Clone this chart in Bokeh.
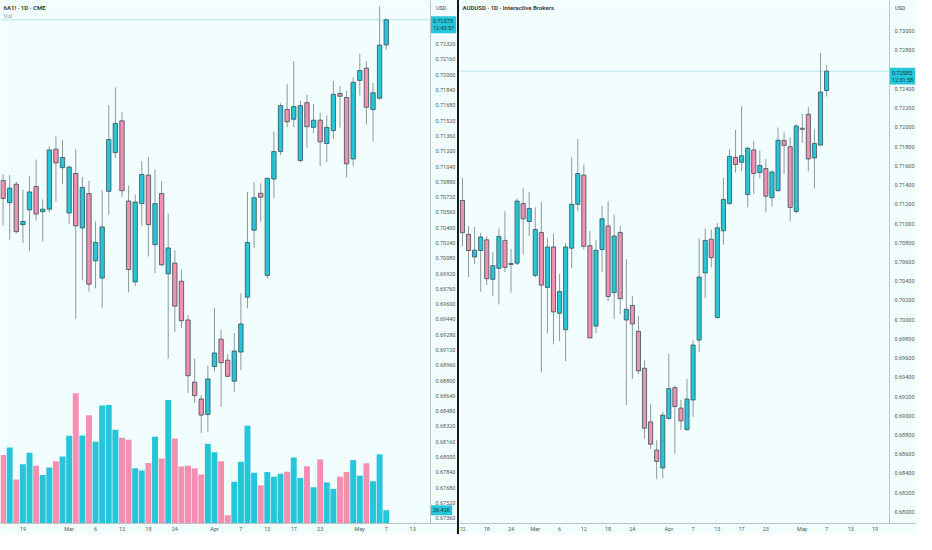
from bokeh.plotting import figure
from bokeh.models import (Range1d, FixedTicker, Label, ColumnDataSource, Div, PrintfTickFormatter,
                          LinearAxis)
from bokeh.layouts import row
from bokeh.embed import file_html
from bokeh.resources import INLINE

# ---------------- data: left panel (6A1! futures, CME, daily) ----------------
left_open = [0.70892, 0.70662, 0.70855, 0.70432, 0.70587, 0.70831, 0.70567, 0.70594, 0.71221, 0.71028,
             0.70554, 0.70967, 0.70398, 0.70757, 0.70053, 0.69873, 0.70780, 0.71186, 0.71518, 0.70678,
             0.69833, 0.70652, 0.70950, 0.70222, 0.70757, 0.69917, 0.70029, 0.69840, 0.69434, 0.68784,
             0.68607, 0.68445, 0.68947, 0.69234, 0.69014, 0.68794, 0.69099, 0.69673, 0.70374, 0.70760,
             0.69901, 0.70909, 0.71196, 0.71637, 0.71535, 0.71102, 0.71708, 0.71450, 0.71525, 0.71281,
             0.71416, 0.71805, 0.71762, 0.71119, 0.71941, 0.72069, 0.71637, 0.71755, 0.72313]
left_high = [0.70960, 0.70950, 0.70881, 0.70797, 0.70939, 0.71112, 0.70696, 0.71254, 0.71356, 0.71315,
             0.71050, 0.71221, 0.70932, 0.70892, 0.70465, 0.70787, 0.71683, 0.71870, 0.71609, 0.70841,
             0.70746, 0.71095, 0.71142, 0.71010, 0.70889, 0.70543, 0.70165, 0.69962, 0.69485, 0.69031,
             0.68648, 0.68960, 0.69562, 0.69332, 0.69078, 0.69298, 0.69714, 0.70774, 0.70875, 0.70865,
             0.70922, 0.71406, 0.71701, 0.71904, 0.72144, 0.71728, 0.71789, 0.71694, 0.71602, 0.71576,
             0.71937, 0.71880, 0.71830, 0.71972, 0.72218, 0.72144, 0.71914, 0.72716, 0.72590]
left_low = [0.70425, 0.70272, 0.70340, 0.70239, 0.70155, 0.70475, 0.70256, 0.70561, 0.70672, 0.70855,
            0.70442, 0.69444, 0.69850, 0.69731, 0.69765, 0.69562, 0.70536, 0.71125, 0.70723, 0.69724,
            0.69792, 0.70419, 0.70097, 0.69924, 0.69995, 0.69028, 0.69308, 0.69349, 0.68672, 0.68564,
            0.68252, 0.68266, 0.68896, 0.68523, 0.68835, 0.68683, 0.68909, 0.69556, 0.70188, 0.70459,
            0.69866, 0.70706, 0.71160, 0.71450, 0.71454, 0.71085, 0.71237, 0.71389, 0.71044, 0.71085,
            0.71328, 0.71447, 0.70926, 0.71044, 0.71785, 0.71480, 0.71298, 0.71740, 0.72262]
left_close = [0.70706, 0.70814, 0.70358, 0.70465, 0.70774, 0.70543, 0.70594, 0.71213, 0.71078, 0.71135,
              0.71034, 0.70419, 0.70821, 0.69809, 0.70246, 0.70408, 0.71322, 0.71491, 0.70787, 0.69962,
              0.70668, 0.70957, 0.70432, 0.70652, 0.70012, 0.70188, 0.69579, 0.69427, 0.68851, 0.68642,
              0.68439, 0.68818, 0.69089, 0.68987, 0.68845, 0.69109, 0.69393, 0.70246, 0.70713, 0.70719,
              0.70916, 0.71196, 0.71677, 0.71508, 0.71667, 0.71677, 0.71457, 0.71525, 0.71298, 0.71450,
              0.71795, 0.71775, 0.71068, 0.71921, 0.72043, 0.71660, 0.71812, 0.72310, 0.72575]
left_volume_k = [137.2, 152.1, 88.0, 118.5, 141.8, 115.8, 97.2, 111.9, 124.4, 134.1,
                 175.5, 260.9, 176.0, 216.8, 163.8, 236.3, 237.0, 187.7, 171.6, 167.7,
                 110.8, 106.1, 121.0, 173.5, 130.2, 247.3, 170.2, 113.9, 115.8, 110.8,
                 98.3, 159.9, 142.4, 124.4, 16.7, 83.5, 123.6, 195.5, 101.6, 76.4,
                 103.0, 93.8, 99.7, 103.6, 132.1, 91.3, 114.6, 72.5, 128.2, 82.2,
                 69.2, 93.8, 103.0, 126.9, 95.8, 120.5, 84.7, 138.5, 26.42]
left_price_ticks = [0.67360, 0.67520, 0.67680, 0.67840, 0.68000, 0.68160, 0.68320, 0.68480, 0.68640, 0.68800,
                    0.68960, 0.69120, 0.69280, 0.69440, 0.69600, 0.69760, 0.69920, 0.70080, 0.70240, 0.70400,
                    0.70560, 0.70720, 0.70880, 0.71040, 0.71200, 0.71360, 0.71520, 0.71680, 0.71840, 0.72000,
                    0.72160, 0.72320]
left_date_ticks = [3, 10, 14, 18, 22, 26, 32, 36, 40, 44, 48, 54, 58, 62]
left_date_labels = ["19", "Mar", "6", "12", "18", "24", "Apr", "7", "13", "17", "23", "May", "7", "13"]
left_title = "6A1! · 1D · CME"
left_last_price = "0.72575"
left_countdown = "12:43:57"
left_last_volume = "26.42K"

# ---------------- data: right panel (AUDUSD, Interactive Brokers, daily) ----------------
right_open = [0.71240, 0.70887, 0.70652, 0.70719, 0.70830, 0.70420, 0.70534, 0.70824, 0.70574, 0.70587,
              0.71207, 0.71021, 0.70460, 0.70907, 0.70335, 0.70756, 0.70066, 0.69895, 0.70743, 0.71200,
              0.71503, 0.70769, 0.69933, 0.70729, 0.70975, 0.70281, 0.70907, 0.69996, 0.70147, 0.69878,
              0.69494, 0.68936, 0.68643, 0.68457, 0.68972, 0.69292, 0.69080, 0.68855, 0.69164, 0.69787,
              0.70486, 0.70837, 0.70022, 0.70924, 0.71207, 0.71688, 0.71637, 0.71301, 0.71765, 0.71530,
              0.71571, 0.71268, 0.71341, 0.71863, 0.71799, 0.71126, 0.71991, 0.72136, 0.71682, 0.71816,
              0.72384]
right_high = [0.71476, 0.70975, 0.70965, 0.70904, 0.70870, 0.70702, 0.70948, 0.71126, 0.70736, 0.71261,
              0.71369, 0.71328, 0.71167, 0.71227, 0.70847, 0.70897, 0.70476, 0.70796, 0.71688, 0.71879,
              0.71611, 0.70924, 0.70830, 0.71183, 0.71233, 0.71092, 0.70975, 0.70628, 0.70248, 0.70039,
              0.69575, 0.69121, 0.68744, 0.69040, 0.69642, 0.69315, 0.69164, 0.69383, 0.69787, 0.70847,
              0.70948, 0.70938, 0.71005, 0.71476, 0.71772, 0.71974, 0.72220, 0.71799, 0.71863, 0.71762,
              0.71672, 0.71553, 0.71998, 0.71947, 0.71897, 0.72031, 0.72142, 0.72210, 0.71980, 0.72775,
              0.72647]
right_low = [0.70763, 0.70443, 0.70577, 0.70292, 0.70359, 0.70248, 0.70157, 0.70493, 0.70281, 0.70567,
             0.70678, 0.70870, 0.70440, 0.69451, 0.69854, 0.69743, 0.69777, 0.69568, 0.70537, 0.71132,
             0.70729, 0.69804, 0.69860, 0.70493, 0.70191, 0.70006, 0.70056, 0.69113, 0.69383, 0.69433,
             0.68760, 0.68653, 0.68340, 0.68350, 0.68962, 0.68603, 0.68851, 0.68845, 0.68989, 0.69663,
             0.70224, 0.70544, 0.70010, 0.70779, 0.71193, 0.71530, 0.71546, 0.71167, 0.71308, 0.71470,
             0.71116, 0.71177, 0.71334, 0.71513, 0.71021, 0.71106, 0.71839, 0.71543, 0.71362, 0.71806,
             0.72321]
right_close = [0.70904, 0.70719, 0.70723, 0.70860, 0.70426, 0.70561, 0.70864, 0.70544, 0.70584, 0.71233,
               0.71049, 0.71157, 0.70938, 0.70359, 0.70756, 0.70080, 0.70292, 0.70756, 0.71200, 0.71520,
               0.70763, 0.69810, 0.70721, 0.71049, 0.70241, 0.70870, 0.70218, 0.70107, 0.69955, 0.69467,
               0.68871, 0.68704, 0.68525, 0.69006, 0.69282, 0.69097, 0.68946, 0.69174, 0.69736, 0.70443,
               0.70824, 0.70645, 0.70955, 0.71251, 0.71698, 0.71614, 0.71705, 0.71783, 0.71520, 0.71604,
               0.71284, 0.71536, 0.71866, 0.71813, 0.71167, 0.72015, 0.71980, 0.71672, 0.71833, 0.72368,
               0.72585]
right_price_ticks = [0.680, 0.682, 0.684, 0.686, 0.688, 0.690, 0.692, 0.694, 0.696, 0.698,
                     0.700, 0.702, 0.704, 0.706, 0.708, 0.710, 0.712, 0.714, 0.716, 0.718,
                     0.720, 0.722, 0.724, 0.728, 0.730]
right_date_ticks = [0, 4, 8, 12, 16, 20, 24, 28, 34, 38, 42, 46, 50, 56, 60, 64, 68]
right_date_labels = ["12", "18", "24", "Mar", "6", "12", "18", "24", "Apr", "7", "13", "17", "23",
                     "May", "7", "13", "19"]
right_title = "AUDUSD · 1D · Interactive Brokers"
right_last_price = "0.72585"
right_countdown = "12:31:58"

# ---------------- style ----------------
BG = "#F2FDFD"
UP = "#26C6DA"
DOWN = "#F48FB1"
OUTLINE = "#35505A"
WICK = "#8E9A9C"
AXIS_LINE = "#B9C6C8"
TEXT = "#505A5C"
TAG_TEXT = "#123A40"
FONT = "Roboto"
FRAME_W = 457      # plot area + price-scale strip
FRAME_H = 523


def candles(p, opens, highs, lows, closes, width):
    idx = list(range(len(opens)))
    colors = [UP if c >= o else DOWN for o, c in zip(opens, closes)]
    src = ColumnDataSource(dict(
        x=idx, o=opens, h=highs, l=lows, c=closes,
        top=[max(o, c) for o, c in zip(opens, closes)],
        bottom=[min(o, c) for o, c in zip(opens, closes)],
        color=colors))
    p.segment(x0="x", y0="h", x1="x", y1="l", source=src, line_color=WICK, line_width=1)
    p.vbar(x="x", top="top", bottom="bottom", width=width, source=src,
           fill_color="color", line_color=OUTLINE, line_width=0.8)
    return colors


def base_figure(x_range, y_range, scale_x, price_ticks, date_ticks, date_labels):
    p = figure(frame_width=FRAME_W, frame_height=FRAME_H, x_range=x_range, y_range=y_range,
               y_axis_location=None, toolbar_location=None, output_backend="svg",
               background_fill_color=BG, border_fill_color=BG)
    p.min_border_left = 0
    p.min_border_top = 0
    p.min_border_right = 0
    p.min_border_bottom = 11
    p.outline_line_color = None
    p.grid.visible = False
    # price scale: a real axis pinned at the edge of the plot area, labels in the strip to its right
    yax = LinearAxis(fixed_location=scale_x, ticker=FixedTicker(ticks=price_ticks),
                     formatter=PrintfTickFormatter(format="%.5f"))
    p.add_layout(yax, "right")
    p.xaxis.ticker = FixedTicker(ticks=date_ticks)
    p.xaxis.major_label_overrides = {t: lab for t, lab in zip(date_ticks, date_labels)}
    for ax in (p.xaxis[0], yax):
        ax.axis_line_color = AXIS_LINE
        ax.major_tick_line_color = None
        ax.minor_tick_line_color = None
        ax.major_tick_out = 0
        ax.major_tick_in = 0
        ax.major_label_text_font = FONT
        ax.major_label_text_font_size = "5.5px"
        ax.major_label_text_color = TEXT
    yax.major_label_standoff = 5
    p.xaxis.major_label_standoff = 2
    return p


def add_header(p, title, with_vol, scale_x):
    p.add_layout(Label(x=3, y=FRAME_H - 7, x_units="screen", y_units="screen", text=title,
                       text_font=FONT, text_font_size="6px", text_font_style="bold",
                       text_color="#3C4446", text_baseline="middle"))
    if with_vol:
        p.add_layout(Label(x=3, y=FRAME_H - 14.5, x_units="screen", y_units="screen", text="Vol",
                           text_font=FONT, text_font_size="6px",
                           text_color="#8A9496", text_baseline="middle"))
    p.add_layout(Label(x=scale_x, y=FRAME_H - 7, x_offset=5.5, y_units="screen", text="USD",
                       text_font=FONT, text_font_size="5.5px", text_color="#3C4446",
                       text_baseline="middle"))


def add_price_tag(p, x_start, scale_x, price_value, price_text, countdown):
    line = ColumnDataSource(dict(x0=[x_start], x1=[scale_x], y=[price_value]))
    p.segment(x0="x0", x1="x1", y0="y", y1="y", source=line, line_color="#B5E4E8", line_width=1)
    p.add_layout(Label(x=scale_x, y=price_value, x_offset=0.5,
                       text=price_text + "\n" + countdown, text_font=FONT,
                       text_font_size="5.5px", text_color=TAG_TEXT, text_line_height=1.15,
                       text_baseline="top", y_offset=3.5, padding=2,
                       background_fill_color=UP, background_fill_alpha=1.0))


# ---------------- left panel ----------------
L_X0, L_SCALE, L_X1 = -0.39, 64.7, 68.79
p1 = base_figure(Range1d(L_X0, L_X1), Range1d(0.67305, 0.72777), L_SCALE,
                 left_price_ticks, left_date_ticks, left_date_labels)
p1.extra_y_ranges = {"vol": Range1d(0, 1047)}
left_colors = [UP if c >= o else DOWN for o, c in zip(left_open, left_close)]
vsrc = ColumnDataSource(dict(x=list(range(len(left_volume_k))), v=left_volume_k, color=left_colors))
p1.vbar(x="x", top="v", bottom=0, width=0.9, source=vsrc, y_range_name="vol",
        fill_color="color", line_color=None)
add_price_tag(p1, L_X0, L_SCALE, left_close[-1], left_last_price, left_countdown)
candles(p1, left_open, left_high, left_low, left_close, 0.66)
add_header(p1, left_title, True, L_SCALE)
p1.add_layout(Label(x=L_SCALE, y=left_volume_k[-1], x_offset=0.5, y_range_name="vol",
                    text=left_last_volume, text_font=FONT, text_font_size="5.5px",
                    text_color=TAG_TEXT, text_baseline="middle", padding=2,
                    background_fill_color=UP))

# ---------------- right panel ----------------
R_X0, R_SCALE, R_X1 = -0.49, 70.37, 74.82
p2 = base_figure(Range1d(R_X0, R_X1), Range1d(0.67879, 0.73320), R_SCALE,
                 right_price_ticks, right_date_ticks, right_date_labels)
add_price_tag(p2, R_X0, R_SCALE, right_close[-1], right_last_price, right_countdown)
candles(p2, right_open, right_high, right_low, right_close, 0.68)
add_header(p2, right_title, False, R_SCALE)

divider = Div(text="", width=2, height=FRAME_H + 11, margin=0,
              styles={"background-color": "#16191C"})

layout = row(p1, divider, p2, spacing=0)
open("out.html", "w").write(file_html(layout, INLINE))
